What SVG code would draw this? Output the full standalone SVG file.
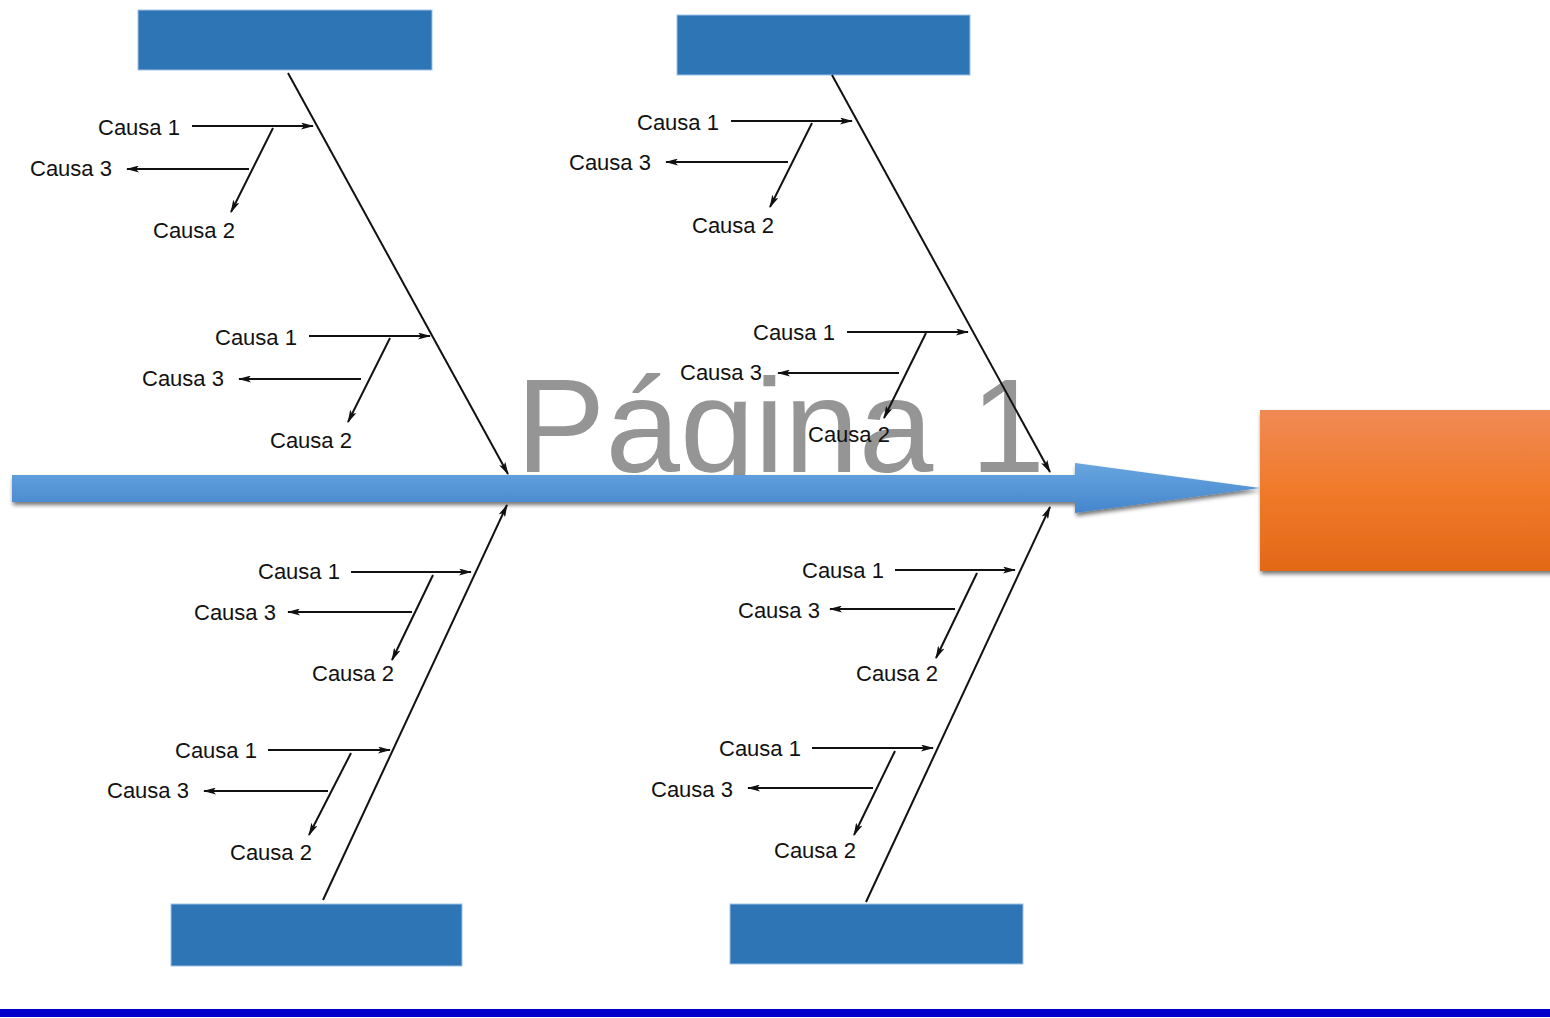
<svg xmlns="http://www.w3.org/2000/svg" width="1550" height="1018" viewBox="0 0 1550 1018">
<style>
.cat{fill:#2e75b6;stroke:#9dc3e6;stroke-width:1}
.bone{stroke:#111;stroke-width:2;fill:none;marker-end:url(#ah)}
.ln{stroke:#111;stroke-width:2;fill:none;marker-end:url(#ah)}
.lbl{font-family:"Liberation Sans",Arial,sans-serif;font-size:22px;fill:#111}
.wm{font-family:"Liberation Sans",Arial,sans-serif;font-size:134px;fill:#959595}
</style>
<defs>
<marker id="ah" markerUnits="userSpaceOnUse" markerWidth="13" markerHeight="7" refX="12" refY="3.5" orient="auto" viewBox="0 0 13 7">
<path d="M0,0 L13,3.5 L0,7 L3,3.5 z" fill="#111"/>
</marker>
<linearGradient id="gArrow" x1="0" y1="0" x2="0" y2="1">
<stop offset="0" stop-color="#68a6e0"/>
<stop offset="1" stop-color="#4585cc"/>
</linearGradient>
<linearGradient id="gOrange" x1="0" y1="0" x2="0" y2="1">
<stop offset="0" stop-color="#f08a55"/>
<stop offset="0.5" stop-color="#f07a2a"/>
<stop offset="1" stop-color="#e36817"/>
</linearGradient>
<filter id="sh" x="-5%" y="-30%" width="110%" height="170%">
<feGaussianBlur in="SourceAlpha" stdDeviation="2"/>
<feOffset dx="1" dy="3" result="b"/>
<feComponentTransfer><feFuncA type="linear" slope="0.55"/></feComponentTransfer>
<feMerge><feMergeNode/><feMergeNode in="SourceGraphic"/></feMerge>
</filter>
</defs>
<rect width="1550" height="1018" fill="#ffffff"/>
<text class="wm" x="516" y="472">Página 1</text>

<g id="spine">
<path d="M12,475 L1075,475 L1075,463 L1260,488 L1075,513 L1075,502 L12,502 z" fill="url(#gArrow)" filter="url(#sh)"/>
</g>
<g id="effect">
<rect x="1260" y="410" width="300" height="161" fill="url(#gOrange)" filter="url(#sh)"/>
</g>
<g id="cat-top-left"><rect class="cat" x="138" y="10" width="294" height="60"/></g>
<g id="cat-top-right"><rect class="cat" x="677" y="15" width="293" height="60"/></g>
<g id="cat-bottom-left"><rect class="cat" x="171" y="904" width="291" height="62"/></g>
<g id="cat-bottom-right"><rect class="cat" x="730" y="904" width="293" height="60"/></g>

<g id="connectors">
<line class="bone" x1="288" y1="73" x2="508" y2="474"/>
<line class="bone" x1="832" y1="75" x2="1050" y2="472"/>
<line class="bone" x1="323" y1="900" x2="507" y2="505"/>
<line class="bone" x1="866" y1="902" x2="1050" y2="507"/>
</g>

<g id="causes-tl1" transform="translate(98,127)">
<line class="ln" x1="94" y1="-1" x2="215" y2="-1"/>
<line class="ln" x1="175" y1="1" x2="133" y2="85"/>
<line class="ln" x1="151" y1="42" x2="29" y2="42"/>
<text class="lbl" x="0" y="8">Causa 1</text>
<text class="lbl" x="-68" y="49">Causa 3</text>
<text class="lbl" x="55" y="111">Causa 2</text>
</g>
<g id="causes-tl2" transform="translate(215,337)">
<line class="ln" x1="94" y1="-1" x2="215" y2="-1"/>
<line class="ln" x1="175" y1="1" x2="133" y2="85"/>
<line class="ln" x1="146" y1="42" x2="24" y2="42"/>
<text class="lbl" x="0" y="8">Causa 1</text>
<text class="lbl" x="-73" y="49">Causa 3</text>
<text class="lbl" x="55" y="111">Causa 2</text>
</g>
<g id="causes-tr1" transform="translate(637,122)">
<line class="ln" x1="94" y1="-1" x2="215" y2="-1"/>
<line class="ln" x1="175" y1="1" x2="133" y2="85"/>
<line class="ln" x1="151" y1="40" x2="29" y2="40"/>
<text class="lbl" x="0" y="8">Causa 1</text>
<text class="lbl" x="-68" y="48">Causa 3</text>
<text class="lbl" x="55" y="111">Causa 2</text>
</g>
<g id="causes-tr2" transform="translate(753,332)">
<line class="ln" x1="94" y1="0" x2="215" y2="0"/>
<line class="ln" x1="173" y1="1" x2="131" y2="86"/>
<line class="ln" x1="146" y1="41" x2="25" y2="41"/>
<text class="lbl" x="0" y="8">Causa 1</text>
<text class="lbl" x="-73" y="48">Causa 3</text>
<text class="lbl" x="55" y="110">Causa 2</text>
</g>
<g id="causes-bl1" transform="translate(258,571)">
<line class="ln" x1="93" y1="1" x2="213" y2="1"/>
<line class="ln" x1="175" y1="4" x2="134" y2="89"/>
<line class="ln" x1="154" y1="41" x2="30" y2="41"/>
<text class="lbl" x="0" y="8">Causa 1</text>
<text class="lbl" x="-64" y="49">Causa 3</text>
<text class="lbl" x="54" y="110">Causa 2</text>
</g>
<g id="causes-bl2" transform="translate(175,750)">
<line class="ln" x1="93" y1="0" x2="215" y2="0"/>
<line class="ln" x1="176" y1="3" x2="134" y2="85"/>
<line class="ln" x1="153" y1="41" x2="29" y2="41"/>
<text class="lbl" x="0" y="8">Causa 1</text>
<text class="lbl" x="-68" y="48">Causa 3</text>
<text class="lbl" x="55" y="110">Causa 2</text>
</g>
<g id="causes-br1" transform="translate(802,570)">
<line class="ln" x1="93" y1="0" x2="213" y2="0"/>
<line class="ln" x1="175" y1="3" x2="134" y2="88"/>
<line class="ln" x1="153" y1="39" x2="28" y2="39"/>
<text class="lbl" x="0" y="8">Causa 1</text>
<text class="lbl" x="-64" y="48">Causa 3</text>
<text class="lbl" x="54" y="111">Causa 2</text>
</g>
<g id="causes-br2" transform="translate(719,748)">
<line class="ln" x1="93" y1="0" x2="214" y2="0"/>
<line class="ln" x1="176" y1="3" x2="135" y2="87"/>
<line class="ln" x1="154" y1="40" x2="29" y2="40"/>
<text class="lbl" x="0" y="8">Causa 1</text>
<text class="lbl" x="-68" y="49">Causa 3</text>
<text class="lbl" x="55" y="110">Causa 2</text>
</g>

<rect x="0" y="1009" width="1550" height="8" fill="#0000cc"/>
</svg>
